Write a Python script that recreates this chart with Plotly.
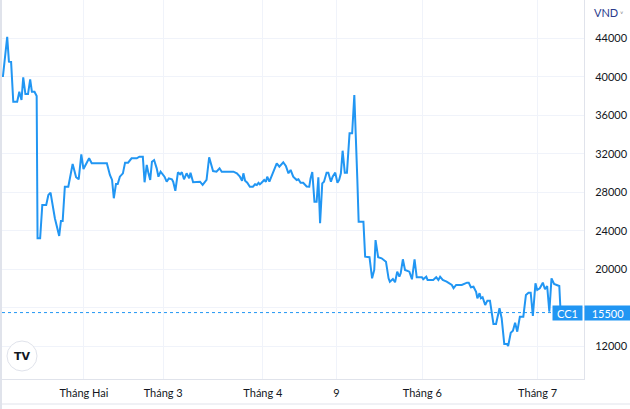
import plotly.graph_objects as go

# ---- data (time in trading-session units, price in VND) ----
t = [0.2, 1.2, 1.6, 2.1, 2.6, 3.5, 4.0, 4.5, 4.9, 5.4, 6.0, 6.5, 6.9, 7.5, 8.0,
     8.2, 8.8, 9.3, 10.2, 10.7, 11.2, 12.2, 13.2, 13.6, 14.0, 14.5, 15.3, 16.3, 17.1, 17.7,
     18.3, 18.8, 20.1, 20.7, 24.2, 24.9, 25.4, 25.8, 26.3, 26.7, 27.2, 27.9, 28.4, 29.1, 29.9,
     31.1, 31.7, 32.5, 32.9, 33.4, 33.8, 34.2, 34.6, 35.1, 35.7, 36.1, 36.6, 37.1, 37.5, 38.0,
     38.5, 39.2, 39.5, 40.0, 40.6, 41.1, 41.5, 42.0, 42.6, 43.2, 43.5, 44.1, 45.7, 46.3, 47.2,
     47.8, 48.4, 48.7, 49.5, 50.2, 50.7, 53.4, 54.2, 54.9, 55.4, 55.7, 56.1, 56.6, 57.2, 57.9,
     58.4, 58.8, 59.2, 59.5, 59.9, 60.5, 60.9, 61.2, 61.7, 62.5, 63.4, 64.0, 64.6, 64.9, 65.5,
     66.1, 66.6, 67.2, 68.0, 68.4, 68.9, 69.5, 70.3, 70.9, 71.2, 71.6, 72.1, 72.6, 73.0, 73.4,
     73.9, 74.3, 74.9, 75.3, 75.9, 76.3, 76.9, 77.4, 77.8, 78.2, 78.6, 79.1, 79.6, 80.2, 80.8,
     81.3, 82.0, 82.3, 83.4, 83.8, 84.8, 85.4, 85.9, 86.2, 86.8, 87.6, 88.6, 89.2, 89.5, 90.2,
     90.7, 91.2, 91.7, 92.0, 92.5, 93.0, 94.0, 94.6, 95.2, 95.7, 96.9, 97.2, 97.9, 98.2, 99.5,
     100.2, 100.7, 101.1, 101.7, 102.6, 103.8, 104.2, 104.8, 106.1, 107.3, 107.7, 108.2, 108.8, 109.4, 109.7,
     110.2, 110.5, 110.9, 111.5, 112.0, 112.6, 113.4, 114.0, 114.8, 115.3, 115.9, 116.5, 116.8, 117.4, 117.9,
     118.4, 118.9, 119.5, 120.3, 120.9, 121.5, 122.0, 122.5, 123.1, 123.5, 124.1, 124.8, 125.3, 125.8, 126.3,
     126.8, 127.4, 128.0, 128.6, 128.9]

price = [39980, 44150, 41570, 41540, 37410, 37410, 38450, 37590, 39950, 38210, 38210, 39740, 38450, 38450, 38000,
         23220, 23220, 26680, 26680, 27720, 27960, 25300, 23460, 25020, 25020, 28580, 28580, 30940, 29560, 29350,
         31950, 30420, 31530, 31010, 31010, 29800, 29280, 27380, 28860, 28860, 29620, 29970, 31080, 31080, 31530,
         31530, 31700, 31700, 29040, 30840, 29970, 29280, 31180, 31350, 30490, 29620, 30140, 29800, 29620, 29100,
         29450, 29350, 29100, 28160, 30080, 29870, 30080, 29350, 29970, 29450, 30030, 29040, 29100, 28760, 29280,
         31640, 30840, 30210, 30140, 30490, 30140, 30140, 29970, 29620, 29200, 29970, 29200, 28990, 28580, 28580,
         28830, 28760, 28990, 28830, 28990, 29280, 29100, 29620, 29100, 29970, 31010, 30660, 31010, 31120, 30730,
         29970, 30320, 29620, 29280, 29350, 28990, 28990, 28600, 28580, 29450, 30110, 27020, 27020, 29560, 24780,
         28930, 29100, 30040, 30040, 29100, 29620, 30040, 28990, 29280, 29970, 32320, 30040, 30040, 34130, 34130,
         38110, 29280, 24940, 24940, 21310, 21250, 19060, 19930, 23040, 21250, 21140, 20790, 19060, 18710, 18990,
         18650, 19750, 19230, 19580, 21040, 19930, 19750, 18960, 21040, 19170, 19170, 18960, 19230, 18890, 18890,
         19170, 18890, 19230, 18890, 18710, 18370, 18030, 18370, 18370, 18610, 18610, 18130, 18190, 17670, 16990,
         17510, 16990, 17090, 16290, 16740, 16740, 14320, 14320, 15950, 14910, 12240, 12240, 12030, 13410, 13620,
         14450, 13520, 15070, 15070, 17330, 17570, 17570, 15150, 18540, 17850, 18030, 18610, 17920, 18260, 15590,
         19060, 18470, 18370, 18260, 15500]

x_tick_pos = [18.9, 37.2, 60.2, 77.2, 97.0, 123.6]
x_tick_text = ["Tháng Hai", "Tháng 3", "Tháng 4", "9", "Tháng 6", "Tháng 7"]
y_tick_vals = [12000, 16000, 20000, 24000, 28000, 32000, 36000, 40000, 44000]
last_price = 15500
symbol = "CC1"
currency = "VND"

# ---- layout geometry ----
W, H = 630, 409
L, R, T, B = 2, 46, 0, 30
PW, PH = W - L - R, H - T - B

def px(xp):
    return (xp - L) / PW

def py(yp):
    return 1 - (yp - T) / PH

BLUE = "#2196f3"
TXT = "#131722"
GRID = "#f0f3fa"
EDGE = "#e0e3eb"
FONT = "Lato, Open Sans, sans-serif"

# the 16000 label sits under the last-price tag in the reference
y_tick_text = ["" if abs(v - last_price) < 1500 else str(v) for v in y_tick_vals]

fig = go.Figure()
fig.add_trace(go.Scatter(x=t, y=price, mode="lines",
                         line=dict(color=BLUE, width=2), hoverinfo="skip",
                         showlegend=False))

fig.update_layout(
    width=W, height=H,
    margin=dict(l=L, r=R, t=T, b=B),
    paper_bgcolor="white", plot_bgcolor="white",
    font=dict(family=FONT, size=11, color=TXT),
    showlegend=False,
    xaxis=dict(range=[0, 134.3], tickmode="array", tickvals=x_tick_pos,
               ticktext=x_tick_text, showgrid=True, gridcolor=GRID, gridwidth=1,
               zeroline=False, showline=True, linecolor=EDGE, linewidth=1,
               ticks="", ticklabelstandoff=4, tickfont=dict(size=11, color=TXT),
               fixedrange=True),
    yaxis=dict(range=[8600, 47980], side="right", tickmode="array",
               tickvals=y_tick_vals, ticktext=y_tick_text,
               showgrid=True, gridcolor=GRID, gridwidth=1, zeroline=False,
               showline=True, linecolor=EDGE, linewidth=1, ticks="",
               ticklabelstandoff=8, tickfont=dict(size=11, color=TXT),
               fixedrange=True),
)

shapes = [
    # last-price dotted line
    dict(type="line", xref="paper", yref="y", x0=0, x1=1, y0=last_price, y1=last_price,
         line=dict(color=BLUE, width=1, dash="dot")),
    # left frame strip
    dict(type="rect", xref="paper", yref="paper", x0=px(0), x1=px(2), y0=py(H), y1=py(0),
         fillcolor=EDGE, line=dict(width=0), layer="above"),
    # bottom frame line
    dict(type="line", xref="paper", yref="paper", x0=px(0), x1=px(W), y0=py(404), y1=py(404),
         line=dict(color=EDGE, width=1)),
    # logo circle
    dict(type="circle", xref="paper", yref="paper", x0=px(7), x1=px(37), y0=py(371), y1=py(341),
         fillcolor="white", line=dict(color=EDGE, width=1)),
]
fig.update_layout(shapes=shapes)

annotations = [
    dict(text=symbol, xref="paper", yref="y", x=1, y=last_price, xanchor="right",
         yanchor="middle", xshift=-1, showarrow=False, bgcolor=BLUE,
         font=dict(color="white", size=11, family=FONT), width=27, height=12, borderpad=1),
    dict(text=f"{last_price}", xref="paper", yref="y", x=1, y=last_price, xanchor="left",
         yanchor="middle", showarrow=False, bgcolor=BLUE,
         font=dict(color="white", size=11, family=FONT), width=44, height=12, borderpad=1),
    dict(text=f"<span style='color:#2b3a8c'>{currency}</span>"
              f"<span style='font-size:7px;color:#787b86'> ˅</span>",
         xref="paper", yref="paper", x=px(592), y=py(12), xanchor="left", yanchor="middle",
         showarrow=False, font=dict(size=11, family=FONT)),
    dict(text="<b>TV</b>", xref="paper", yref="paper", x=px(22), y=py(356),
         xanchor="center", yanchor="middle", showarrow=False,
         font=dict(size=11, color="#131722", family="DejaVu Sans")),
]
fig.update_layout(annotations=annotations)

fig.write_html("out.html",
               config={"displayModeBar": False, "staticPlot": True},
               post_script="document.body.style.margin='0';document.body.style.overflow='hidden';")
